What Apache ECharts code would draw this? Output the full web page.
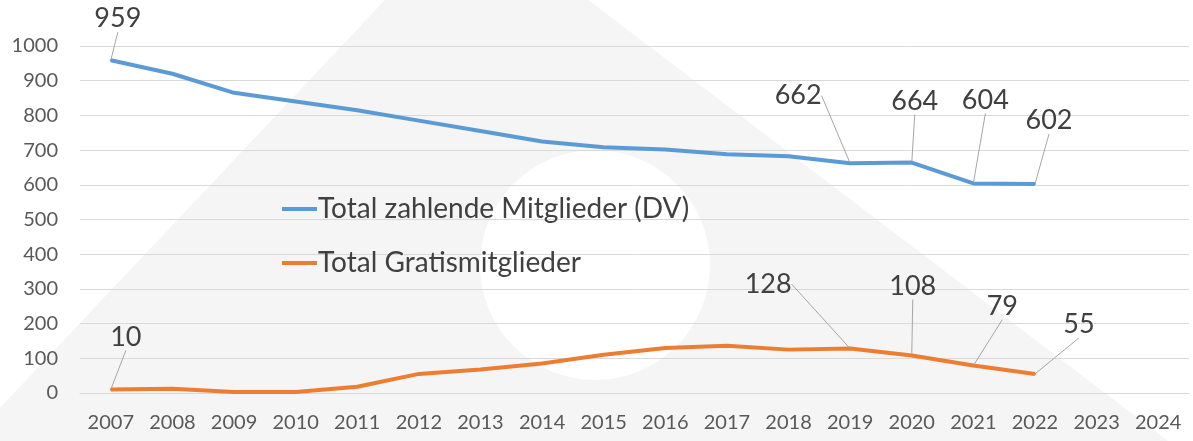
<!DOCTYPE html>
<html>
<head>
<meta charset="utf-8">
<script src="https://cdn.jsdelivr.net/npm/echarts@6/dist/echarts.min.js"></script>
<style>
  html, body { margin: 0; padding: 0; background: #fff; }
  #chart { width: 1193px; height: 441px; }
</style>
</head>
<body>
<div id="chart"></div>
<script>
// Daten
const years = ['2007', '2008', '2009', '2010', '2011', '2012', '2013', '2014', '2015',
  '2016', '2017', '2018', '2019', '2020', '2021', '2022', '2023', '2024']
const zahlende = [959, 920, 865, 840, 815, 785, 755, 725, 708, 702, 688, 682, 662, 664, 604, 602]
const gratis = [10, 12, 3, 3, 18, 55, 68, 85, 110, 130, 136, 125, 128, 108, 79, 55]
const labelledIdx = [0, 12, 13, 14, 15]

// Label-Verschiebung (dx, dy) je Serie und Punkt
const labelShift = {
  0: {0: [7, -22], 12: [-52, -48], 13: [3, -42], 14: [12, -64], 15: [14, -44]},
  1: {0: [15, -33], 12: [-82, -45], 13: [1, -50], 14: [29, -40], 15: [44, -30]}
}

const toData = vals => vals.map((v, i) => ({
  value: v,
  label: {show: labelledIdx.includes(i)}
}))

const chart = echarts.init(document.getElementById('chart'), null, {renderer: 'canvas'})

const lineSeries = (name, vals, color) => ({
  name: name,
  type: 'line',
  data: toData(vals),
  symbol: 'circle',
  symbolSize: 2,
  showSymbol: true,
  lineStyle: {color: color, width: 4},
  itemStyle: {color: color},
  label: {
    position: 'top',
    fontFamily: 'Lato',
    fontSize: 27,
    color: '#404040'
  },
  labelLine: {
    show: true,
    lineStyle: {color: '#a6a6a6', width: 1}
  },
  labelLayout: p => {
    const s = labelShift[p.seriesIndex][p.dataIndex] || [0, 0]
    return {dx: s[0], dy: s[1]}
  },
  emphasis: {disabled: true}
})

const option = {
  animation: false,
  backgroundColor: '#fff',
  graphic: [
    {
      type: 'polygon',
      silent: true,
      z: -10,
      shape: {points: [[-40, 450], [470, -90], [1180, 450]]},
      style: {fill: '#f5f5f5'}
    },
    {
      type: 'circle',
      silent: true,
      z: -9,
      shape: {cx: 595, cy: 265, r: 115},
      style: {fill: '#ffffff'}
    }
  ],
  grid: {left: 80, right: 4, top: 46, bottom: 48},
  legend: {
    orient: 'vertical',
    left: 277,
    top: 190,
    itemWidth: 35,
    itemHeight: 4,
    itemGap: 26,
    icon: 'rect',
    textStyle: {fontFamily: 'Lato', fontSize: 28, color: '#404040', padding: [0, 0, 0, -4]},
    data: ['Total zahlende Mitglieder (DV)', 'Total Gratismitglieder']
  },
  xAxis: {
    type: 'category',
    data: years,
    boundaryGap: true,
    axisLine: {lineStyle: {color: '#d9d9d9'}},
    axisTick: {show: false},
    axisLabel: {fontFamily: 'Lato', fontSize: 20, color: '#595959', margin: 20}
  },
  yAxis: {
    type: 'value',
    min: 0,
    max: 1000,
    interval: 100,
    axisLine: {show: false},
    axisTick: {show: false},
    splitLine: {lineStyle: {color: '#d9d9d9', width: 1}},
    axisLabel: {
      fontFamily: 'Lato', fontSize: 20, color: '#595959', margin: 22,
      formatter: v => String(v)
    }
  },
  series: [
    lineSeries('Total zahlende Mitglieder (DV)', zahlende, '#5b9bd5'),
    lineSeries('Total Gratismitglieder', gratis, '#ed7d31')
  ]
}

chart.setOption(option)
</script>
</body>
</html>
